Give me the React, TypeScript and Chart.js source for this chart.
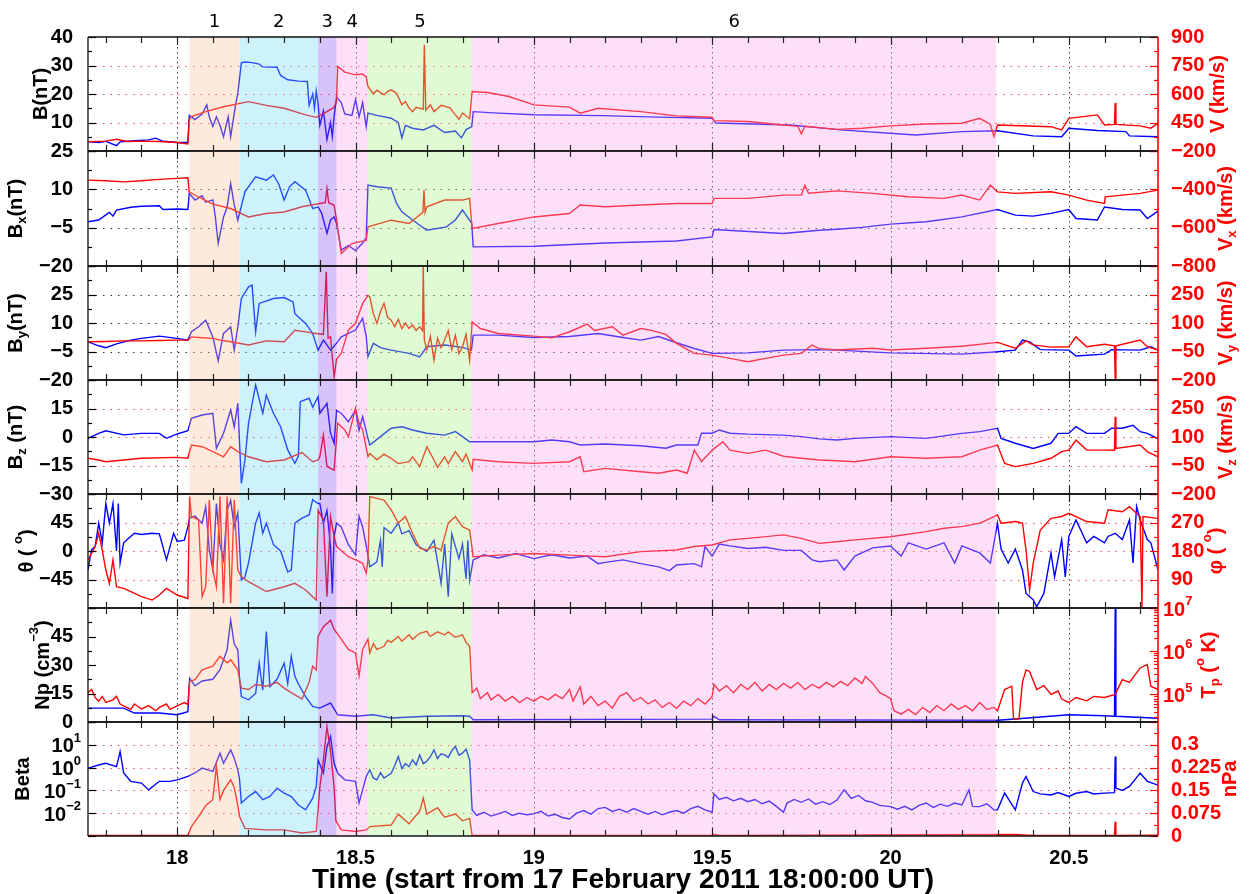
import React, { useEffect, useRef } from 'react';
import { Chart, registerables } from 'chart.js';

Chart.register(...registerables);

type Pt = [number, number];

// ---------------- data (time in hours, value) ----------------
const B_MAG: Pt[] = [[17.75,3.3],[17.78,3.0],[17.80,3.4],[17.83,1.9],[17.84,3.2],[17.88,3.6],[17.92,3.9],[17.94,4.5],[17.96,3.4],[18.0,3.0],[18.03,3.0],[18.034,12.5],[18.05,11.0],[18.07,13.0],[18.083,16.2],[18.09,12.0],[18.1,8.6],[18.11,12.0],[18.12,9.0],[18.13,5.0],[18.143,12.0],[18.15,5.0],[18.163,15.6],[18.17,20.3],[18.18,30.9],[18.19,31.2],[18.21,31.0],[18.23,30.5],[18.24,29.5],[18.28,29.4],[18.29,26.5],[18.31,25.0],[18.34,24.5],[18.365,24.4],[18.37,16.0],[18.38,20.0],[18.385,15.0],[18.39,21.0],[18.395,16.5],[18.40,9.0],[18.41,14.0],[18.42,4.0],[18.43,10.0],[18.435,5.0],[18.44,12.0],[18.447,19.0],[18.46,17.0],[18.47,13.0],[18.49,12.5],[18.5,18.0],[18.51,12.0],[18.52,17.0],[18.53,8.5],[18.535,13.3],[18.56,12.5],[18.6,11.5],[18.62,10.0],[18.63,4.6],[18.64,9.0],[18.66,8.0],[18.69,7.4],[18.72,9.0],[18.75,6.5],[18.78,7.0],[18.797,4.6],[18.81,7.5],[18.826,8.6],[18.83,13.8],[18.9,13.3],[19.0,12.7],[19.19,12.4],[19.35,11.9],[19.5,11.5],[19.51,9.8],[19.72,9.1],[19.86,7.4],[20.07,5.6],[20.2,6.8],[20.3,7.1],[20.4,5.3],[20.48,5.0],[20.5,8.0],[20.58,7.2],[20.66,6.8],[20.67,5.3],[20.75,5.0]];
const V_MAG: Pt[] = [[17.75,349],[17.8,352],[17.83,362],[17.86,350],[17.9,352],[17.95,350],[18.0,345],[18.03,337],[18.034,464],[18.04,481],[18.08,507],[18.13,533],[18.2,560],[18.25,540],[18.3,525],[18.36,490],[18.39,477],[18.42,507],[18.44,530],[18.447,560],[18.45,745],[18.47,715],[18.5,701],[18.52,705],[18.53,690],[18.535,640],[18.55,600],[18.56,620],[18.58,595],[18.59,613],[18.6,622],[18.615,604],[18.63,543],[18.64,560],[18.65,527],[18.66,507],[18.67,530],[18.69,520],[18.693,859],[18.697,515],[18.71,543],[18.72,507],[18.74,540],[18.765,527],[18.78,490],[18.79,467],[18.8,500],[18.82,470],[18.827,613],[18.87,608],[18.93,587],[19.0,543],[19.1,531],[19.13,499],[19.18,525],[19.3,507],[19.4,485],[19.5,478],[19.505,460],[19.6,455],[19.7,437],[19.74,430],[19.75,390],[19.76,430],[19.85,414],[19.92,420],[20.0,432],[20.1,442],[20.2,446],[20.25,472],[20.28,440],[20.29,376],[20.3,437],[20.45,428],[20.48,411],[20.5,472],[20.58,490],[20.6,437],[20.628,440],[20.63,552],[20.632,440],[20.7,432],[20.73,420],[20.75,446]];
const BX: Pt[] = [[17.75,-2.7],[17.78,-2.0],[17.80,0.0],[17.81,1.0],[17.82,-0.5],[17.83,1.9],[17.87,3.0],[17.9,3.4],[17.95,3.6],[17.96,2.1],[18.0,2.3],[18.03,2.1],[18.034,8.4],[18.05,5.8],[18.07,7.5],[18.08,5.0],[18.1,5.9],[18.107,-0.8],[18.115,-11.2],[18.13,-0.8],[18.14,3.0],[18.15,12.3],[18.16,4.0],[18.17,-2.1],[18.19,9.0],[18.22,14.9],[18.25,13.6],[18.27,15.6],[18.285,12.0],[18.3,5.8],[18.315,11.0],[18.33,13.0],[18.36,9.7],[18.38,2.5],[18.395,3.1],[18.405,0.7],[18.42,-7.2],[18.43,-2.0],[18.44,-0.8],[18.447,-3.4],[18.46,-13.8],[18.48,-12.0],[18.5,-14.0],[18.52,-11.0],[18.53,-9.0],[18.535,11.7],[18.56,11.0],[18.6,10.5],[18.615,4.5],[18.63,1.2],[18.66,-2.0],[18.7,-6.0],[18.755,-4.7],[18.78,-2.0],[18.8,1.9],[18.81,-0.1],[18.826,-3.4],[18.83,-12.5],[19.0,-12.3],[19.2,-11.0],[19.4,-10.2],[19.5,-8.6],[19.505,-5.7],[19.7,-7.3],[19.8,-6.0],[19.85,-5.6],[19.92,-4.9],[20.0,-3.6],[20.1,-2.7],[20.2,-0.8],[20.3,2.1],[20.35,-0.1],[20.4,-0.5],[20.45,0.6],[20.5,2.1],[20.52,-1.4],[20.58,-2.0],[20.6,3.1],[20.65,2.1],[20.7,1.9],[20.72,-1.4],[20.75,1.5]];
const VX: Pt[] = [[17.75,-352],[17.8,-355],[17.85,-361],[17.9,-355],[17.95,-348],[18.0,-343],[18.03,-340],[18.034,-413],[18.06,-440],[18.1,-477],[18.15,-500],[18.2,-544],[18.25,-526],[18.3,-518],[18.35,-491],[18.4,-474],[18.415,-470],[18.42,-395],[18.425,-470],[18.44,-483],[18.447,-560],[18.46,-735],[18.49,-683],[18.52,-670],[18.53,-666],[18.535,-596],[18.6,-561],[18.65,-578],[18.689,-520],[18.692,-404],[18.695,-520],[18.7,-491],[18.75,-456],[18.8,-456],[18.82,-447],[18.827,-604],[18.9,-578],[19.0,-544],[19.1,-526],[19.13,-482],[19.2,-491],[19.3,-482],[19.4,-474],[19.5,-474],[19.505,-447],[19.6,-447],[19.7,-430],[19.75,-430],[19.76,-378],[19.77,-420],[19.85,-408],[19.95,-421],[20.05,-439],[20.15,-447],[20.2,-430],[20.25,-456],[20.28,-378],[20.3,-413],[20.35,-421],[20.45,-413],[20.5,-430],[20.55,-456],[20.6,-474],[20.602,-439],[20.65,-430],[20.7,-421],[20.75,-404]];
const BY: Pt[] = [[17.75,0.1],[17.78,-2.0],[17.8,-3.0],[17.83,-1.0],[17.87,1.0],[17.9,1.9],[17.95,3.1],[18.0,1.9],[18.03,1.0],[18.04,5.4],[18.06,8.0],[18.08,11.5],[18.1,2.7],[18.115,-9.9],[18.13,4.5],[18.15,8.0],[18.16,-4.3],[18.17,8.0],[18.18,22.9],[18.2,29.0],[18.21,29.9],[18.22,5.4],[18.23,20.3],[18.27,22.9],[18.3,23.4],[18.325,21.1],[18.33,14.9],[18.34,13.2],[18.36,9.8],[18.38,4.5],[18.395,-4.3],[18.41,1.0],[18.43,-4.3],[18.447,-0.6],[18.46,2.7],[18.5,6.3],[18.52,12.4],[18.53,3.0],[18.535,-7.8],[18.55,-0.7],[18.57,-3.0],[18.6,-4.3],[18.65,-6.0],[18.68,-7.8],[18.7,-2.5],[18.75,-1.6],[18.8,-2.8],[18.825,-4.3],[18.83,3.6],[18.9,3.6],[19.0,2.4],[19.1,2.9],[19.18,4.5],[19.25,2.4],[19.3,1.0],[19.35,2.9],[19.4,-0.4],[19.45,-3.4],[19.5,-6.0],[19.6,-5.7],[19.7,-4.3],[19.8,-4.0],[19.85,-4.3],[20.0,-5.7],[20.2,-6.4],[20.3,-5.1],[20.35,-4.3],[20.37,1.0],[20.39,0.0],[20.42,-4.0],[20.5,-4.3],[20.52,-7.4],[20.6,-6.4],[20.62,-4.0],[20.7,-4.3],[20.73,-2.5],[20.75,-4.3]];
const VY: Pt[] = [[17.75,1],[17.8,3],[17.85,6],[17.9,6],[17.95,8],[18.0,10],[18.03,10],[18.04,27],[18.07,22],[18.1,19],[18.12,10],[18.15,1],[18.2,-16],[18.25,6],[18.3,1],[18.33,62],[18.36,53],[18.39,45],[18.41,40],[18.418,369],[18.423,20],[18.43,27],[18.44,-183],[18.447,-90],[18.46,-60],[18.48,62],[18.5,98],[18.52,203],[18.535,246],[18.54,237],[18.55,150],[18.56,98],[18.57,160],[18.58,203],[18.59,130],[18.6,115],[18.61,80],[18.62,120],[18.63,70],[18.64,100],[18.65,71],[18.66,90],[18.67,60],[18.68,80],[18.688,60],[18.69,404],[18.693,10],[18.7,-40],[18.71,30],[18.72,-95],[18.73,20],[18.74,-30],[18.75,10],[18.76,60],[18.77,-40],[18.78,36],[18.79,-60],[18.8,-25],[18.81,40],[18.82,-95],[18.827,106],[18.85,71],[18.9,45],[19.0,31],[19.05,22],[19.1,54],[19.15,94],[19.17,61],[19.22,80],[19.25,36],[19.3,71],[19.33,61],[19.37,40],[19.4,-7],[19.45,-60],[19.5,-69],[19.55,-86],[19.6,-104],[19.65,-86],[19.7,-69],[19.75,-60],[19.78,-16],[19.8,-35],[19.85,-42],[19.95,-33],[20.0,-42],[20.1,-33],[20.2,-22],[20.3,-2],[20.35,-33],[20.38,6],[20.4,-15],[20.45,-27],[20.5,-25],[20.52,27],[20.55,-25],[20.6,-12],[20.628,-20],[20.63,-191],[20.632,-20],[20.7,10],[20.72,-25],[20.75,-42]];
const BZ: Pt[] = [[17.75,-0.7],[17.78,1.9],[17.8,3.3],[17.85,1.1],[17.9,1.9],[17.95,1.9],[17.97,-0.7],[18.0,1.6],[18.03,3.3],[18.04,9.8],[18.07,11.6],[18.1,12.5],[18.11,-6.0],[18.13,2.0],[18.15,14.2],[18.16,5.4],[18.17,17.7],[18.18,-24.4],[18.19,-12.1],[18.2,7.2],[18.22,27.4],[18.24,12.5],[18.25,22.0],[18.27,12.5],[18.29,5.4],[18.31,-6.8],[18.33,-13.8],[18.34,-10.0],[18.345,18.6],[18.37,20.4],[18.38,15.6],[18.395,21.2],[18.4,12.5],[18.42,17.7],[18.43,2.0],[18.44,-3.3],[18.447,14.0],[18.46,12.5],[18.48,8.0],[18.5,14.2],[18.51,3.5],[18.52,10.7],[18.535,-0.7],[18.54,-4.2],[18.57,0.2],[18.6,4.6],[18.63,5.4],[18.66,3.7],[18.7,2.0],[18.75,1.0],[18.78,2.9],[18.8,0.2],[18.82,-2.5],[18.9,-2.5],[19.0,-2.5],[19.05,-1.6],[19.1,-2.5],[19.13,-4.2],[19.2,-3.7],[19.3,-4.6],[19.37,-5.9],[19.4,-4.2],[19.46,-4.2],[19.47,2.0],[19.5,2.0],[19.52,3.7],[19.55,2.0],[19.6,1.5],[19.7,1.0],[19.75,0.2],[19.8,-1.0],[19.85,-1.6],[19.9,-0.7],[20.0,0.2],[20.1,-0.7],[20.2,1.9],[20.25,2.8],[20.3,4.6],[20.31,-0.7],[20.35,-3.3],[20.4,-6.0],[20.45,-3.3],[20.47,1.9],[20.5,1.9],[20.52,5.4],[20.55,1.9],[20.6,1.9],[20.62,4.6],[20.65,4.6],[20.68,6.2],[20.7,2.8],[20.72,1.9],[20.75,-1.0]];
const VZ: Pt[] = [[17.75,-12],[17.78,-21],[17.8,-30],[17.9,-12],[18.0,-7],[18.03,-12],[18.04,58],[18.07,49],[18.1,23],[18.13,-4],[18.15,49],[18.17,23],[18.2,-4],[18.25,-30],[18.3,-21],[18.35,18],[18.38,-30],[18.395,-21],[18.4,-4],[18.41,110],[18.42,-56],[18.44,-74],[18.45,172],[18.47,137],[18.48,101],[18.5,251],[18.51,172],[18.52,137],[18.535,-4],[18.54,14],[18.56,-20],[18.58,10],[18.6,-12],[18.62,-40],[18.65,-30],[18.66,-5],[18.68,-56],[18.7,49],[18.72,-21],[18.73,-60],[18.75,-4],[18.76,-40],[18.78,23],[18.8,-30],[18.81,10],[18.827,-74],[18.83,-17],[18.9,-30],[19.0,-39],[19.1,-30],[19.13,-4],[19.14,-83],[19.2,-65],[19.3,-83],[19.35,-91],[19.4,-74],[19.43,-91],[19.45,31],[19.47,-30],[19.5,31],[19.53,75],[19.55,31],[19.6,14],[19.65,31],[19.7,-1],[19.75,-12],[19.8,-21],[19.85,-25],[19.9,-30],[20.0,-4],[20.1,-12],[20.2,-4],[20.25,31],[20.3,58],[20.32,-39],[20.35,-56],[20.4,-39],[20.45,-12],[20.48,23],[20.5,31],[20.52,84],[20.55,31],[20.6,31],[20.628,30],[20.63,207],[20.632,40],[20.7,58],[20.72,23],[20.75,-4]];
const THETA: Pt[] = [[17.75,-30],[17.76,2],[17.77,7],[17.78,44],[17.79,13],[17.8,75],[17.81,44],[17.82,75],[17.83,0],[17.835,75],[17.84,-19],[17.85,13],[17.86,18],[17.88,28],[17.9,26],[17.93,28],[17.95,27],[17.96,7],[17.97,-14],[17.98,7],[17.99,28],[18.0,15],[18.02,17],[18.03,38],[18.035,52],[18.05,55],[18.07,44],[18.08,70],[18.09,2],[18.1,-30],[18.11,75],[18.12,10],[18.13,-14],[18.14,64],[18.15,80],[18.16,38],[18.17,60],[18.18,-46],[18.19,-41],[18.2,-19],[18.22,44],[18.23,60],[18.24,28],[18.25,44],[18.27,10],[18.29,0],[18.31,-33],[18.32,-30],[18.33,44],[18.35,52],[18.37,57],[18.38,81],[18.395,75],[18.4,75],[18.41,44],[18.42,64],[18.43,7],[18.435,-67],[18.44,23],[18.447,44],[18.46,38],[18.48,10],[18.5,-6],[18.51,55],[18.52,38],[18.535,-6],[18.54,-25],[18.56,-17],[18.57,17],[18.575,-25],[18.58,37],[18.6,28],[18.62,44],[18.63,27],[18.65,32],[18.67,10],[18.7,-1],[18.72,17],[18.74,-51],[18.75,11],[18.76,-72],[18.77,27],[18.79,-12],[18.8,11],[18.81,-44],[18.815,17],[18.82,-46],[18.83,-14],[18.86,-6],[18.9,-11],[18.95,-4],[19.0,-12],[19.05,-6],[19.1,-11],[19.15,-8],[19.18,-20],[19.2,-18],[19.25,-14],[19.3,-20],[19.35,-25],[19.38,-31],[19.4,-22],[19.45,-20],[19.47,-25],[19.48,7],[19.5,-8],[19.52,11],[19.55,8],[19.6,4],[19.65,6],[19.7,1],[19.75,1],[19.78,-14],[19.8,-17],[19.85,-14],[19.87,-30],[19.9,-8],[19.95,5],[20.0,8],[20.03,-8],[20.05,13],[20.1,3],[20.15,13],[20.18,-19],[20.2,8],[20.25,-3],[20.28,-19],[20.3,44],[20.31,3],[20.33,-19],[20.35,3],[20.37,-30],[20.38,-67],[20.4,-77],[20.41,-88],[20.43,-67],[20.45,-3],[20.46,-41],[20.48,18],[20.49,-41],[20.5,23],[20.52,49],[20.55,13],[20.57,23],[20.6,13],[20.61,23],[20.63,28],[20.65,18],[20.67,49],[20.68,-19],[20.69,70],[20.7,49],[20.72,18],[20.73,13],[20.75,-30]];
const PHI: Pt[] = [[17.75,152],[17.77,194],[17.78,236],[17.79,183],[17.8,120],[17.81,78],[17.82,152],[17.83,67],[17.85,62],[17.87,52],[17.9,36],[17.93,25],[17.95,41],[17.97,62],[18.0,41],[18.03,30],[18.035,352],[18.04,289],[18.06,278],[18.07,36],[18.08,67],[18.09,341],[18.1,120],[18.11,67],[18.12,352],[18.13,15],[18.14,352],[18.15,15],[18.16,341],[18.17,120],[18.18,99],[18.2,83],[18.25,52],[18.3,67],[18.33,78],[18.36,57],[18.39,25],[18.395,309],[18.41,278],[18.42,36],[18.43,289],[18.44,225],[18.447,194],[18.48,162],[18.5,152],[18.52,141],[18.53,110],[18.535,152],[18.54,352],[18.58,341],[18.6,310],[18.62,268],[18.64,289],[18.66,236],[18.68,189],[18.7,183],[18.72,194],[18.74,183],[18.76,268],[18.78,289],[18.8,257],[18.82,246],[18.83,162],[18.9,167],[19.0,172],[19.1,167],[19.2,162],[19.3,178],[19.4,183],[19.45,194],[19.5,199],[19.55,215],[19.6,220],[19.7,231],[19.75,220],[19.8,204],[19.85,209],[19.9,215],[20.0,225],[20.1,241],[20.15,252],[20.2,257],[20.25,268],[20.28,283],[20.3,294],[20.31,268],[20.35,273],[20.37,268],[20.38,183],[20.39,57],[20.4,141],[20.42,246],[20.45,283],[20.48,289],[20.5,299],[20.55,273],[20.6,268],[20.61,310],[20.65,304],[20.67,320],[20.7,289],[20.705,0],[20.708,289],[20.75,283]];
const NP: Pt[] = [[17.75,7.3],[17.85,7.3],[17.88,4.7],[17.95,4.7],[18.0,3.8],[18.03,5.4],[18.035,23],[18.05,19],[18.07,21.6],[18.1,22.5],[18.12,27.5],[18.13,32.8],[18.14,38],[18.15,53.7],[18.16,41],[18.17,38],[18.175,22.5],[18.18,13.4],[18.2,11.7],[18.22,15],[18.23,31],[18.24,16.8],[18.25,47.6],[18.26,18.6],[18.28,22.5],[18.3,31],[18.31,20.3],[18.32,34.6],[18.33,24],[18.34,20],[18.36,13.4],[18.38,8.2],[18.4,7.3],[18.43,10],[18.45,3.8],[18.5,3],[18.55,3.8],[18.6,2.1],[18.7,3],[18.8,3.3],[18.82,3],[18.83,1.2],[19.5,1.5],[19.505,3],[19.52,1.2],[20.3,0.9],[20.35,1.6],[20.5,3.8],[20.6,3.3],[20.628,3],[20.63,60],[20.632,3],[20.75,2]];
const TP: Pt[] = [[17.75,1.1e5],[17.76,1.3e5],[17.77,8.5e4],[17.78,7e4],[17.79,9e4],[17.8,6.5e4],[17.82,7.5e4],[17.83,9.1e4],[17.84,6e4],[17.85,5.4e4],[17.87,4.5e4],[17.88,6e4],[17.9,4.6e4],[17.92,5.5e4],[17.94,4.2e4],[17.95,5e4],[17.97,6e4],[17.98,4.5e4],[18.0,5.4e4],[18.02,6.5e4],[18.03,5.9e4],[18.035,2.0e5],[18.05,2.2e5],[18.07,3.7e5],[18.1,4.5e5],[18.12,7.6e5],[18.14,5.4e5],[18.15,6.3e5],[18.17,3.7e5],[18.18,1.4e5],[18.2,1.3e5],[18.22,1.7e5],[18.25,1.55e5],[18.28,1.9e5],[18.3,1.4e5],[18.32,1.1e5],[18.35,7.8e4],[18.37,1.9e5],[18.38,4.5e5],[18.39,3.7e5],[18.395,2.2e6],[18.41,3.7e6],[18.43,5.2e6],[18.44,3.2e6],[18.46,1.9e6],[18.48,1.1e6],[18.5,9.1e5],[18.51,2.7e5],[18.52,1.1e6],[18.535,1.9e6],[18.54,9.1e5],[18.55,1.5e6],[18.56,1.1e6],[18.58,1.3e6],[18.59,1.8e6],[18.6,1.6e6],[18.62,2.2e6],[18.63,1.7e6],[18.65,2.4e6],[18.66,1.9e6],[18.68,2.6e6],[18.7,2.9e6],[18.71,2.2e6],[18.73,2.8e6],[18.75,2.4e6],[18.76,2.8e6],[18.78,2.1e6],[18.8,2.4e6],[18.81,1.6e6],[18.82,1.3e6],[18.827,1.1e5],[18.84,1.4e5],[18.85,8e4],[18.87,1.1e5],[18.88,7.5e4],[18.9,1.0e5],[18.92,7e4],[18.94,9e4],[18.96,6.5e4],[18.98,8.5e4],[19.0,7e4],[19.02,9e4],[19.04,7.5e4],[19.06,1.0e5],[19.08,8e4],[19.1,1.3e5],[19.11,7e4],[19.13,1.5e5],[19.14,6e4],[19.16,9e4],[19.18,5.5e4],[19.2,7e4],[19.22,4.8e4],[19.24,9e4],[19.26,1.1e5],[19.28,7e4],[19.3,8.5e4],[19.32,6e4],[19.34,7.5e4],[19.36,5e4],[19.38,6.5e4],[19.4,4.8e4],[19.42,7e4],[19.44,5.5e4],[19.46,8e4],[19.48,6e4],[19.5,9e4],[19.505,1.7e5],[19.52,1.2e5],[19.54,1.6e5],[19.56,1.1e5],[19.58,1.7e5],[19.6,1.3e5],[19.62,1.9e5],[19.64,1.2e5],[19.66,1.7e5],[19.68,1.3e5],[19.7,1.8e5],[19.72,1.4e5],[19.74,1.9e5],[19.76,1.3e5],[19.78,1.7e5],[19.8,1.4e5],[19.82,1.9e5],[19.84,1.5e5],[19.86,2.0e5],[19.88,1.6e5],[19.9,2.4e5],[19.92,1.8e5],[19.93,2.6e5],[19.95,1.8e5],[19.97,1.1e5],[19.99,9e4],[20.0,8e4],[20.01,4.2e4],[20.03,3.5e4],[20.05,4.5e4],[20.07,3.4e4],[20.09,5e4],[20.11,3.8e4],[20.13,5.5e4],[20.15,4.2e4],[20.17,6e4],[20.19,4.5e4],[20.21,5.5e4],[20.23,4.2e4],[20.25,6.5e4],[20.27,4.5e4],[20.29,5e4],[20.3,4.2e4],[20.32,1.3e5],[20.34,1.55e5],[20.345,2.7e4],[20.36,2.7e4],[20.37,1.9e5],[20.38,3.7e5],[20.39,3.4e5],[20.41,1.3e5],[20.43,1.6e5],[20.45,1e5],[20.47,1.2e5],[20.48,7.8e4],[20.5,6.5e4],[20.52,8.5e4],[20.55,7.1e4],[20.57,9e4],[20.6,8.5e4],[20.63,1e5],[20.65,2.2e5],[20.67,1.9e5],[20.7,4.1e5],[20.72,4.9e5],[20.73,1.55e5],[20.75,1.3e5]];
const BETA: Pt[] = [[17.75,0.95],[17.78,1.3],[17.8,1.55],[17.83,1.1],[17.84,5.1],[17.85,0.58],[17.87,0.25],[17.9,0.21],[17.92,0.105],[17.95,0.25],[17.98,0.25],[18.0,0.29],[18.03,0.41],[18.05,0.58],[18.07,0.95],[18.1,0.68],[18.12,4.3],[18.13,1.55],[18.15,6.0],[18.16,2.6],[18.17,0.8],[18.175,0.29],[18.18,0.028],[18.2,0.054],[18.22,0.089],[18.24,0.039],[18.26,0.054],[18.28,0.126],[18.3,0.076],[18.32,0.054],[18.34,0.023],[18.36,0.014],[18.38,0.046],[18.39,0.15],[18.395,2.2],[18.41,0.58],[18.42,8.5],[18.43,23],[18.44,1.55],[18.45,0.58],[18.47,0.29],[18.5,0.25],[18.51,0.028],[18.53,0.41],[18.54,0.8],[18.55,0.35],[18.56,0.29],[18.57,0.6],[18.58,0.35],[18.6,0.56],[18.61,1.2],[18.62,3.1],[18.63,0.9],[18.64,1.5],[18.65,1.1],[18.66,2.2],[18.67,1.3],[18.68,3.6],[18.69,1.5],[18.7,1.9],[18.71,3.0],[18.72,6.0],[18.73,2.5],[18.74,4.0],[18.75,3.6],[18.76,2.8],[18.77,5.5],[18.78,8.5],[18.79,3.5],[18.8,4.3],[18.81,6.5],[18.82,2.2],[18.827,0.014],[18.84,0.008],[18.86,0.011],[18.88,0.0075],[18.9,0.0093],[18.92,0.012],[18.94,0.008],[18.96,0.01],[18.98,0.0085],[19.0,0.0093],[19.02,0.012],[19.04,0.0075],[19.06,0.009],[19.08,0.0065],[19.1,0.0056],[19.12,0.01],[19.14,0.013],[19.16,0.009],[19.18,0.016],[19.2,0.018],[19.22,0.012],[19.24,0.015],[19.26,0.011],[19.28,0.016],[19.3,0.012],[19.32,0.009],[19.34,0.012],[19.36,0.0085],[19.38,0.011],[19.4,0.013],[19.42,0.01],[19.44,0.016],[19.46,0.02],[19.48,0.014],[19.5,0.011],[19.505,0.071],[19.52,0.04],[19.54,0.05],[19.56,0.035],[19.58,0.045],[19.6,0.032],[19.62,0.04],[19.64,0.026],[19.66,0.034],[19.68,0.02],[19.7,0.011],[19.71,0.028],[19.73,0.04],[19.75,0.03],[19.77,0.042],[19.79,0.025],[19.81,0.032],[19.83,0.024],[19.85,0.038],[19.87,0.105],[19.89,0.045],[19.91,0.06],[19.93,0.035],[19.95,0.03],[19.97,0.022],[20.0,0.0195],[20.02,0.015],[20.04,0.02],[20.06,0.014],[20.08,0.022],[20.1,0.028],[20.12,0.018],[20.14,0.025],[20.16,0.02],[20.18,0.028],[20.2,0.023],[20.22,0.105],[20.23,0.02],[20.25,0.0195],[20.27,0.026],[20.29,0.014],[20.3,0.014],[20.32,0.076],[20.35,0.014],[20.37,0.21],[20.38,0.41],[20.4,0.089],[20.42,0.07],[20.45,0.063],[20.47,0.08],[20.5,0.054],[20.52,0.075],[20.55,0.089],[20.57,0.07],[20.6,0.076],[20.628,0.08],[20.63,3.1],[20.632,0.126],[20.65,0.1],[20.67,0.15],[20.7,0.58],[20.72,0.25],[20.75,0.17]];
const PDYN: Pt[] = [[17.75,0.002],[18.03,0.002],[18.04,0.031],[18.06,0.064],[18.08,0.1],[18.1,0.12],[18.11,0.23],[18.12,0.12],[18.13,0.15],[18.15,0.185],[18.16,0.16],[18.17,0.1],[18.175,0.064],[18.19,0.025],[18.25,0.02],[18.3,0.02],[18.35,0.01],[18.39,0.015],[18.4,0.16],[18.41,0.25],[18.42,0.36],[18.43,0.28],[18.44,0.16],[18.445,0.05],[18.46,0.02],[18.5,0.015],[18.53,0.02],[18.54,0.031],[18.6,0.036],[18.62,0.072],[18.65,0.04],[18.68,0.082],[18.69,0.125],[18.7,0.072],[18.73,0.093],[18.75,0.062],[18.78,0.072],[18.8,0.05],[18.82,0.058],[18.827,0.002],[19.5,0.002],[19.505,0.006],[19.52,0.002],[20.35,0.005],[20.4,0.002],[20.628,0.002],[20.63,0.047],[20.632,0.002],[20.75,0.003]];

const X_MIN = 17.75;
const X_MAX = 20.75;
const X_TICK_LABELS = [18, 18.5, 19, 19.5, 20, 20.5];
const REGION_EDGES = [18.034, 18.175, 18.395, 18.447, 18.535, 18.827, 20.296];
const REGION_NAMES = ['1', '2', '3', '4', '5', '6'];

const B_TICKS = [0, 10, 20, 30, 40];
const V_TICKS = [300, 450, 600, 750, 900];
const BX_TICKS = [-20, -5, 10, 25];
const VX_TICKS = [-800, -600, -400, -200];
const BY_TICKS = [-20, -5, 10, 25, 40];
const VY_TICKS = [-200, -50, 100, 250, 400];
const BZ_TICKS = [-30, -15, 0, 15, 30];
const VZ_TICKS = [-200, -50, 100, 250, 400];
const THETA_TICKS = [-90, -45, 0, 45, 90];
const PHI_TICKS = [0, 90, 180, 270, 360];
const NP_TICKS = [0, 15, 30, 45, 60];
const TP_TICKS = [1e5, 1e6, 1e7];
const BETA_TICKS = [1e-3, 1e-2, 1e-1, 1, 10, 100];
const PDYN_TICKS = [0, 0.075, 0.15, 0.225, 0.3, 0.375];

// ---------------- styles / layout ----------------
const W = 1250;
const H = 894;
const AXIS_L = 88;
const AXIS_R = 1158;
const X_AXIS_H = 58;
const BANDS = [37, 151, 266, 380, 494, 608, 722, 836];
const BLUE = '#0000ff';
const RED = '#ff0000';
const GRID_RED = 'rgba(255,40,40,0.85)';
const GRID_BLACK = 'rgba(0,0,0,0.8)';
const TINTS = [
  'rgba(249,195,155,0.35)',
  'rgba(112,218,244,0.35)',
  'rgba(141,84,241,0.35)',
  'rgba(249,166,235,0.35)',
  'rgba(166,244,132,0.35)',
  'rgba(249,166,235,0.35)',
];
const FONT = '"Liberation Sans", Arial, Helvetica, sans-serif';
const LEFT_SIZE = 20;
const RIGHT_SIZE = 20;

type Seg = { t: string; s?: 'sub' | 'sup' };
interface AxisDef {
  type: 'linear' | 'logarithmic';
  min: number;
  max: number;
  ticks: number[];
  hide: number[];
  title: Seg[];
  titleX: number;
}
interface PanelDef {
  blue: Pt[];
  red: Pt[];
  left: AxisDef;
  right: AxisDef;
  grid: number[];
  gridColor: string;
}

const PANELS: PanelDef[] = [
  {
    blue: B_MAG, red: V_MAG,
    left: { type: 'linear', min: 0, max: 40, ticks: B_TICKS, hide: [0], title: [{ t: 'B(nT)' }], titleX: 41 },
    right: { type: 'linear', min: 300, max: 900, ticks: V_TICKS, hide: [300], title: [{ t: 'V (km/s)' }], titleX: 1218 },
    grid: [10, 20, 30], gridColor: GRID_RED,
  },
  {
    blue: BX, red: VX,
    left: { type: 'linear', min: -20, max: 25, ticks: BX_TICKS, hide: [], title: [{ t: 'B' }, { t: 'x', s: 'sub' }, { t: '(nT)' }], titleX: 16 },
    right: { type: 'linear', min: -800, max: -200, ticks: VX_TICKS, hide: [], title: [{ t: 'V' }, { t: 'x', s: 'sub' }, { t: ' (km/s)' }], titleX: 1226 },
    grid: [-5, 10], gridColor: GRID_BLACK,
  },
  {
    blue: BY, red: VY,
    left: { type: 'linear', min: -20, max: 40, ticks: BY_TICKS, hide: [40], title: [{ t: 'B' }, { t: 'y', s: 'sub' }, { t: '(nT)' }], titleX: 16 },
    right: { type: 'linear', min: -200, max: 400, ticks: VY_TICKS, hide: [400], title: [{ t: 'V' }, { t: 'y', s: 'sub' }, { t: ' (km/s)' }], titleX: 1226 },
    grid: [-5, 10, 25], gridColor: GRID_BLACK,
  },
  {
    blue: BZ, red: VZ,
    left: { type: 'linear', min: -30, max: 30, ticks: BZ_TICKS, hide: [30], title: [{ t: 'B' }, { t: 'z', s: 'sub' }, { t: ' (nT)' }], titleX: 16 },
    right: { type: 'linear', min: -200, max: 400, ticks: VZ_TICKS, hide: [400], title: [{ t: 'V' }, { t: 'z', s: 'sub' }, { t: ' (km/s)' }], titleX: 1226 },
    grid: [-15, 0, 15], gridColor: GRID_RED,
  },
  {
    blue: THETA, red: PHI,
    left: { type: 'linear', min: -90, max: 90, ticks: THETA_TICKS, hide: [90, -90], title: [{ t: '\u03b8 ( ' }, { t: 'o', s: 'sup' }, { t: ')' }], titleX: 27 },
    right: { type: 'linear', min: 0, max: 360, ticks: PHI_TICKS, hide: [0, 360], title: [{ t: '\u03c6 ( ' }, { t: 'o', s: 'sup' }, { t: ')' }], titleX: 1216 },
    grid: [-45, 0, 45], gridColor: GRID_RED,
  },
  {
    blue: NP, red: TP,
    left: { type: 'linear', min: 0, max: 60, ticks: NP_TICKS, hide: [60], title: [{ t: 'Np (cm' }, { t: '\u22123', s: 'sup' }, { t: ')' }], titleX: 43 },
    right: { type: 'logarithmic', min: 2.3e4, max: 1e7, ticks: TP_TICKS, hide: [], title: [{ t: 'T' }, { t: 'p', s: 'sub' }, { t: ' (' }, { t: 'o', s: 'sup' }, { t: ' K)' }], titleX: 1209 },
    grid: [], gridColor: GRID_RED,
  },
  {
    blue: BETA, red: PDYN,
    left: { type: 'logarithmic', min: 1e-3, max: 1e2, ticks: BETA_TICKS, hide: [1e-3, 1e2], title: [{ t: 'Beta' }], titleX: 23 },
    right: { type: 'linear', min: 0, max: 0.375, ticks: PDYN_TICKS, hide: [0.375], title: [{ t: 'nPa' }], titleX: 1230 },
    grid: [1e-2, 1e-1, 1, 10], gridColor: GRID_RED,
  },
];

const fmt = (v: number) => (v < 0 ? '\u2212' + String(Math.abs(v)) : String(v));

function drawRich(
  ctx: CanvasRenderingContext2D, segs: Seg[], x: number, y: number, size: number,
  color: string, align: 'left' | 'right' | 'center', rotate: boolean,
) {
  const main = `bold ${size}px ${FONT}`;
  const small = `bold ${Math.round(size * 0.65)}px ${FONT}`;
  ctx.save();
  let total = 0;
  const ws = segs.map((s) => {
    ctx.font = s.s ? small : main;
    const m = ctx.measureText(s.t).width;
    total += m;
    return m;
  });
  ctx.translate(x, y);
  if (rotate) ctx.rotate(-Math.PI / 2);
  let cx = align === 'center' ? -total / 2 : align === 'right' ? -total : 0;
  ctx.fillStyle = color;
  ctx.textBaseline = 'middle';
  ctx.textAlign = 'left';
  segs.forEach((s, i) => {
    ctx.font = s.s ? small : main;
    const dy = s.s === 'sup' ? -size * 0.42 : s.s === 'sub' ? size * 0.32 : 0;
    ctx.fillText(s.t, cx, dy);
    cx += ws[i];
  });
  ctx.restore();
}

function seg(ctx: CanvasRenderingContext2D, x0: number, y0: number, x1: number, y1: number) {
  ctx.beginPath();
  ctx.moveTo(x0, y0);
  ctx.lineTo(x1, y1);
  ctx.stroke();
}

function minorValues(a: AxisDef): number[] {
  if (a.type === 'logarithmic') {
    const out: number[] = [];
    const lo = Math.floor(Math.log10(a.min));
    const hi = Math.ceil(Math.log10(a.max));
    for (let e = lo; e < hi; e++) {
      for (let k = 2; k <= 9; k++) {
        const v = k * Math.pow(10, e);
        if (v > a.min && v < a.max) out.push(v);
      }
    }
    return out;
  }
  const out: number[] = [];
  for (let i = 0; i < a.ticks.length - 1; i++) out.push((a.ticks[i] + a.ticks[i + 1]) / 2);
  return out;
}

function makePlugin(p: PanelDef, idx: number) {
  return {
    id: 'panelDecor' + idx,
    beforeDatasetsDraw(chart: any) {
      const { ctx, chartArea: a, scales } = chart;
      ctx.save();
      ctx.beginPath();
      ctx.rect(a.left, a.top, a.right - a.left, a.bottom - a.top);
      ctx.clip();
      ctx.lineWidth = 1;
      ctx.strokeStyle = 'rgba(0,0,0,0.75)';
      ctx.setLineDash([1.5, 3.5]);
      for (const t of X_TICK_LABELS) {
        const px = Math.round(scales.x.getPixelForValue(t)) + 0.5;
        seg(ctx, px, a.top, px, a.bottom);
      }
      ctx.strokeStyle = p.gridColor;
      ctx.setLineDash([1.5, 6]);
      for (const v of p.grid) {
        const py = Math.round(scales.yL.getPixelForValue(v)) + 0.5;
        seg(ctx, a.left, py, a.right, py);
      }
      ctx.restore();
    },
    afterDatasetsDraw(chart: any) {
      const { ctx, chartArea: a, scales } = chart;
      ctx.save();
      for (let i = 0; i < REGION_NAMES.length; i++) {
        const x0 = scales.x.getPixelForValue(REGION_EDGES[i]);
        const x1 = scales.x.getPixelForValue(REGION_EDGES[i + 1]);
        ctx.fillStyle = TINTS[i];
        ctx.fillRect(x0, a.top, x1 - x0, a.bottom - a.top);
      }
      ctx.restore();
    },
    afterDraw(chart: any) {
      const { ctx, chartArea: a, scales } = chart;
      const x = scales.x;
      ctx.save();
      ctx.setLineDash([]);
      ctx.strokeStyle = '#222';
      ctx.lineWidth = 1.2;
      for (let k = 178; k <= 207; k++) {
        const t = k / 10;
        const major = k % 5 === 0;
        const len = major ? 8 : 6;
        const px = Math.round(x.getPixelForValue(t)) + 0.5;
        seg(ctx, px, a.top, px, a.top + len);
        seg(ctx, px, a.bottom, px, a.bottom - len);
      }
      const yL = scales.yL;
      const yR = scales.yR;
      ctx.strokeStyle = '#000';
      for (const v of p.left.ticks) {
        const py = Math.round(yL.getPixelForValue(v)) + 0.5;
        seg(ctx, a.left, py, a.left + 8, py);
      }
      if (p.left.type === 'linear') {
        for (const v of minorValues(p.left)) {
          const py = Math.round(yL.getPixelForValue(v)) + 0.5;
          seg(ctx, a.left, py, a.left + 4, py);
        }
      }
      ctx.strokeStyle = RED;
      for (const v of p.right.ticks) {
        const py = Math.round(yR.getPixelForValue(v)) + 0.5;
        seg(ctx, a.right, py, a.right - 8, py);
      }
      for (const v of minorValues(p.right)) {
        const py = Math.round(yR.getPixelForValue(v)) + 0.5;
        seg(ctx, a.right, py, a.right - 4, py);
      }
      ctx.strokeStyle = '#111';
      ctx.lineWidth = 1.3;
      seg(ctx, a.left, a.top, a.right, a.top);
      seg(ctx, a.left, a.bottom, a.right, a.bottom);
      seg(ctx, a.left, a.top, a.left, a.bottom);
      ctx.strokeStyle = RED;
      ctx.lineWidth = 1.6;
      seg(ctx, a.right, a.top, a.right, a.bottom);
      if (p.left.type === 'logarithmic') {
        for (const v of p.left.ticks) {
          if (p.left.hide.includes(v)) continue;
          const e = Math.round(Math.log10(v));
          drawRich(ctx, [{ t: '10' }, { t: fmt(e), s: 'sup' }], AXIS_L - 7, yL.getPixelForValue(v) + 2, LEFT_SIZE, '#000', 'right', false);
        }
      }
      if (p.right.type === 'logarithmic') {
        for (const v of p.right.ticks) {
          if (p.right.hide.includes(v)) continue;
          const e = Math.round(Math.log10(v));
          drawRich(ctx, [{ t: '10' }, { t: fmt(e), s: 'sup' }], AXIS_R + 5, yR.getPixelForValue(v) + 2, RIGHT_SIZE, RED, 'left', false);
        }
      }
      const cy = (a.top + a.bottom) / 2;
      drawRich(ctx, p.left.title, p.left.titleX, cy, LEFT_SIZE, '#000', 'center', true);
      drawRich(ctx, p.right.title, p.right.titleX, cy, RIGHT_SIZE, RED, 'center', true);
      if (idx === 0) {
        ctx.fillStyle = '#000';
        ctx.font = `18px "DejaVu Sans", ${FONT}`;
        ctx.textAlign = 'center';
        ctx.textBaseline = 'middle';
        for (let i = 0; i < REGION_NAMES.length; i++) {
          const cx = x.getPixelForValue((REGION_EDGES[i] + REGION_EDGES[i + 1]) / 2);
          ctx.fillText(REGION_NAMES[i], cx, 22);
        }
      }
      ctx.restore();
    },
  };
}

function axisOptions(a: AxisDef, side: 'left' | 'right') {
  return {
    type: a.type,
    position: side,
    min: a.min,
    max: a.max,
    grid: { display: false },
    border: { display: false },
    afterBuildTicks: (s: any) => {
      s.ticks = a.ticks.map((v) => ({ value: v }));
    },
    afterFit: (s: any) => {
      s.width = side === 'left' ? AXIS_L : W - AXIS_R;
    },
    ticks: {
      autoSkip: false,
      padding: side === 'left' ? 7 : 5,
      color: side === 'left' ? '#000' : RED,
      font: { family: FONT, size: side === 'left' ? LEFT_SIZE : RIGHT_SIZE, weight: 'bold' as const },
      callback: (v: any) => {
        const n = Number(v);
        if (a.type === 'logarithmic' || a.hide.includes(n)) return '';
        return fmt(n);
      },
    },
  };
}

function makeConfig(p: PanelDef, idx: number): any {
  const isLast = idx === PANELS.length - 1;
  return {
    type: 'line',
    data: {
      datasets: [
        { data: p.red, borderColor: RED, borderWidth: 1.4, pointRadius: 0, yAxisID: 'yR', order: 0, tension: 0 },
        { data: p.blue, borderColor: BLUE, borderWidth: 1.4, pointRadius: 0, yAxisID: 'yL', order: 1, tension: 0 },
      ],
    },
    options: {
      responsive: false,
      animation: false,
      events: [],
      layout: {
        padding: { left: 0, right: 0, top: BANDS[idx], bottom: isLast ? H - BANDS[idx + 1] - X_AXIS_H : H - BANDS[idx + 1] },
      },
      plugins: { legend: { display: false }, title: { display: false }, tooltip: { enabled: false } },
      scales: {
        x: {
          type: 'linear',
          position: 'bottom',
          min: X_MIN,
          max: X_MAX,
          display: isLast,
          grid: { display: false },
          border: { display: false },
          afterBuildTicks: (s: any) => {
            s.ticks = X_TICK_LABELS.map((v) => ({ value: v }));
          },
          afterFit: (s: any) => {
            s.height = isLast ? X_AXIS_H : 0;
          },
          ticks: {
            autoSkip: false,
            maxRotation: 0,
            padding: 2,
            color: '#000',
            font: { family: FONT, size: 20, weight: 'bold' },
            callback: (v: any) => String(v),
          },
          title: {
            display: true,
            text: 'Time (start from 17 February 2011 18:00:00 UT)',
            color: '#000',
            font: { family: FONT, size: 28, weight: 'bold' },
            padding: { top: 0, bottom: -3 },
          },
        },
        yL: axisOptions(p.left, 'left'),
        yR: axisOptions(p.right, 'right'),
      },
    },
    plugins: [makePlugin(p, idx)],
  };
}

export default function App() {
  const refs = useRef<(HTMLCanvasElement | null)[]>([]);
  useEffect(() => {
    const charts = PANELS.map((p, i) => new Chart(refs.current[i] as HTMLCanvasElement, makeConfig(p, i)));
    return () => charts.forEach((c) => c.destroy());
  }, []);
  return (
    <div style={{ position: 'absolute', left: 0, top: 0, width: W, height: H, background: '#fff', overflow: 'hidden' }}>
      {PANELS.map((_, i) => (
        <canvas
          key={i}
          ref={(el) => {
            refs.current[i] = el;
          }}
          width={W}
          height={H}
          style={{ position: 'absolute', left: 0, top: 0, width: W, height: H }}
        />
      ))}
    </div>
  );
}
